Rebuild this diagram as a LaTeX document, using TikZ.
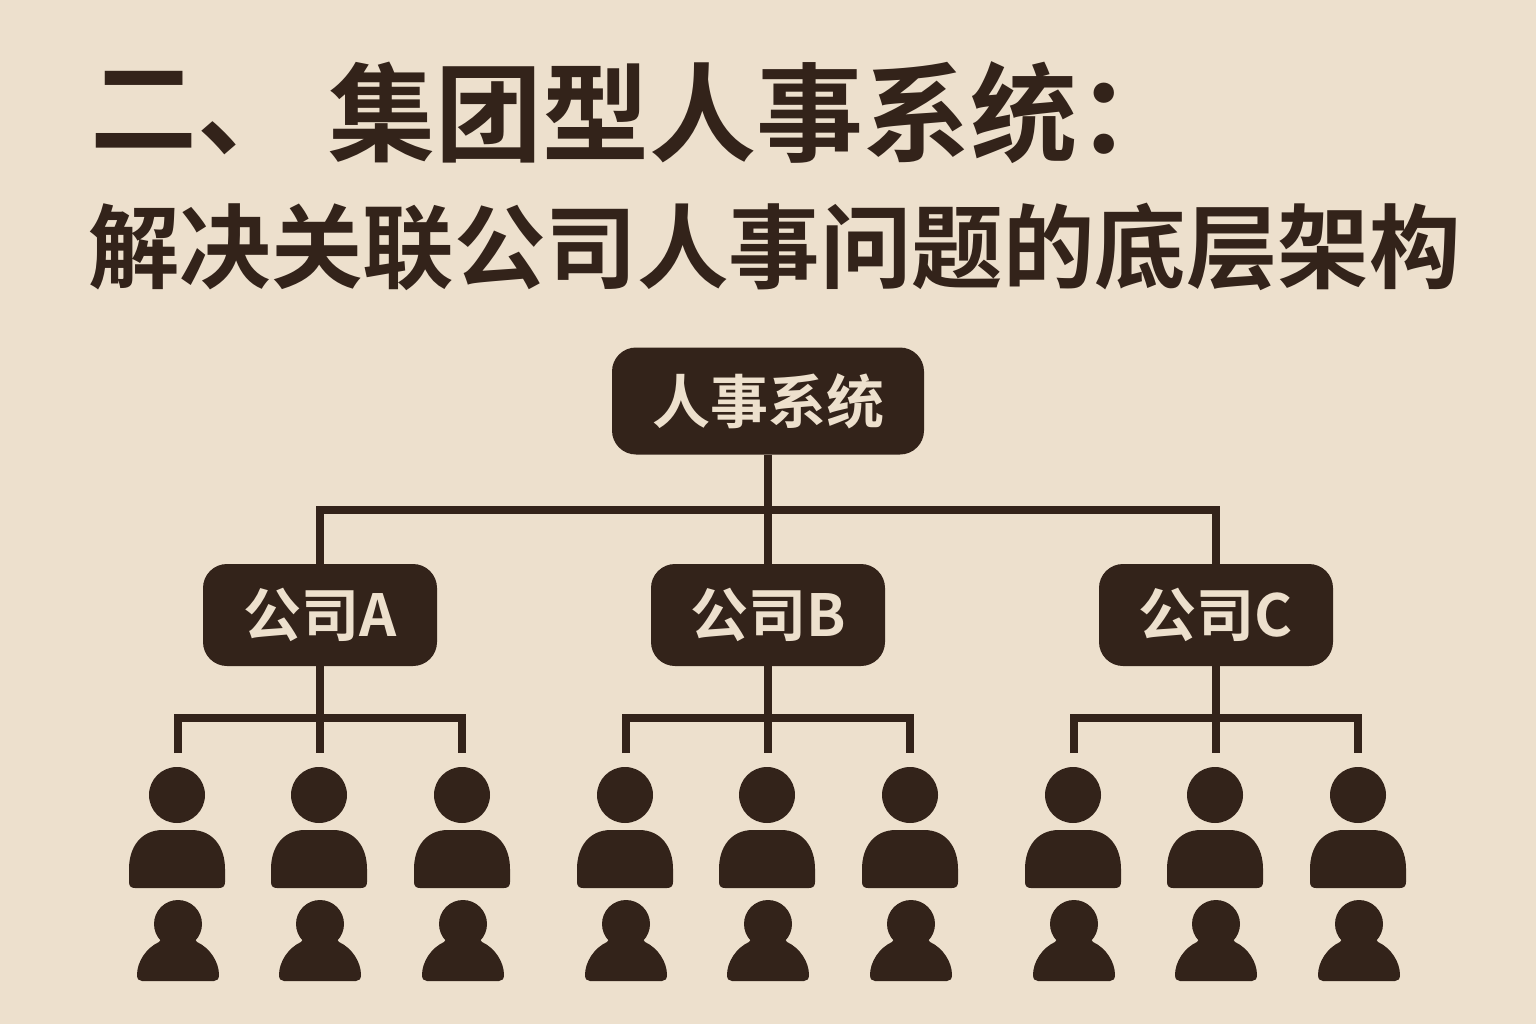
\documentclass[tikz,border=0pt]{standalone}
\usepackage{fontspec}
\newfontfamily\cjk{Noto Sans CJK SC}[BoldFont={* Bold}]
\definecolor{inkbrown}{HTML}{33231A}
\definecolor{paperbg}{HTML}{EDE0CD}
\definecolor{labeltxt}{HTML}{EDE0CD}
\tikzset{
    titletext/.style={inkbrown, anchor=west, inner sep=0pt},
    topbox/.style={fill=inkbrown, rounded corners=24pt, minimum width=312pt, minimum height=107pt, text=labeltxt, font=\cjk\bfseries\fontsize{58}{58}\selectfont, inner sep=0pt},
    compbox/.style={fill=inkbrown, rounded corners=24pt, minimum width=234pt, minimum height=102pt, text=labeltxt, font=\cjk\bfseries\fontsize{58}{58}\selectfont, inner sep=0pt},
    link/.style={draw=inkbrown, line width=8pt},
    person/.pic={
        % y runs downwards here, origin at the head centre
        \fill[inkbrown] (0,0) circle (28);
        \fill[inkbrown] (-14,35) -- (14,35) .. controls (36,35) and (48,52) .. (48,74)
            -- (48,87) .. controls (48,91) and (46,93) .. (42,93) -- (-42,93)
            .. controls (-46,93) and (-48,91) .. (-48,87) -- (-48,74)
            .. controls (-48,52) and (-36,35) .. (-14,35) -- cycle;
    },
    smallperson/.pic={
        \fill[inkbrown] (0,0) circle (24);
        \fill[inkbrown] (-16,14) -- (16,14) -- (19,18) .. controls (32,24) and (41,38) .. (41,51)
            .. controls (41,55) and (39,57) .. (36,57) -- (-36,57)
            .. controls (-39,57) and (-41,55) .. (-41,51)
            .. controls (-41,38) and (-32,24) .. (-19,18) -- cycle;
    }
}
\begin{document}
\begin{tikzpicture}[x=1pt, y=-1pt]
    \fill[paperbg] (0,0) rectangle (1536,1024);
    \useasboundingbox (0,0) rectangle (1536,1024);
    % Title
    \node[titletext, font=\cjk\bfseries\fontsize{107}{107}\selectfont] (title1) at (90,113) {二、};
    \node[titletext, font=\cjk\bfseries\fontsize{107}{107}\selectfont] (title2) at (328,113) {集团型人事系统：};
    \node[titletext, font=\cjk\bfseries\fontsize{91.5}{92}\selectfont] (title3) at (88,247) {解决关联公司人事问题的底层架构};

    % Top box
    \node[topbox] (hr) at (768,401) {人事系统};

    % Companies
    \foreach \cname/\cx/\clabel in {compa/320/A, compb/768/B, compc/1216/C} {
        \node[compbox] (\cname) at (\cx,615) {\raisebox{-2pt}{公司\clabel}};
        \coordinate (\cname top) at (\cx,510);
        \coordinate (\cname bar) at (\cx,718);
        \coordinate (\cname l) at ({\cx-142},718);
        \coordinate (\cname r) at ({\cx+142},718);
        \coordinate (\cname ld) at ({\cx-142},753);
        \coordinate (\cname md) at (\cx,753);
        \coordinate (\cname rd) at ({\cx+142},753);
        \draw[link] (\cname) -- (\cname md);
        \draw[link] (\cname ld) -- (\cname l) -- (\cname r) -- (\cname rd);
        \draw[link] (\cname top) -- (\cname);
        % People
        \foreach \dx in {-143,-1,142} {
            \pic at ({\cx+\dx},795) {person};
            \pic at ({\cx+\dx+1},924) {smallperson};
        }
    }
    \draw[link] (hr) -- (compbtop);
    \draw[link, line cap=rect] (compatop) -- (compctop);
\end{tikzpicture}
\end{document}
